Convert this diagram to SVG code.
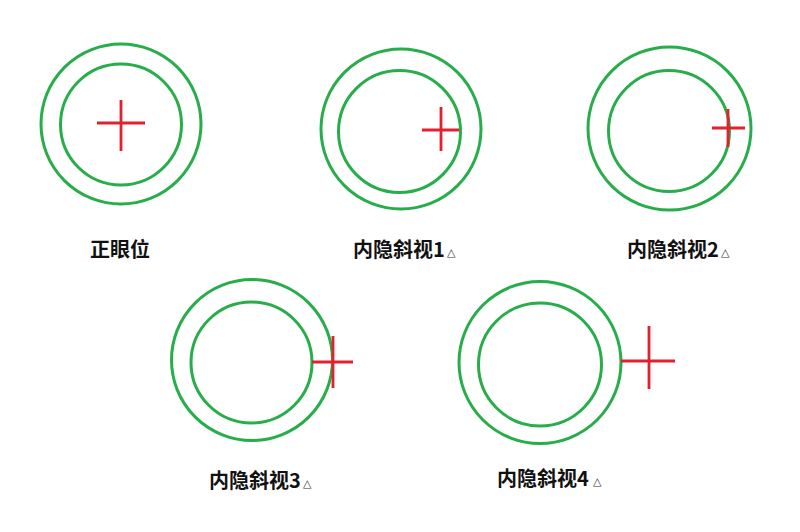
<svg xmlns="http://www.w3.org/2000/svg" width="800" height="532" viewBox="0 0 800 532">
<style>
.ring{fill:none;stroke:#27ad4a;stroke-width:3}
.cross{fill:none;stroke:#e4202e;stroke-width:2.8}
.lbl{font-family:"Noto Sans CJK SC","Liberation Sans",sans-serif;font-size:20px;font-weight:bold;fill:#111}
.tri{font-family:"DejaVu Sans","Noto Sans CJK SC",sans-serif;font-size:11px;fill:#333}
</style>
<rect width="800" height="532" fill="#ffffff"/>
<g id="node1">
<circle class="ring" cx="121" cy="124" r="80"/>
<circle class="ring" cx="121" cy="124.5" r="60.5"/>
<path class="cross" d="M97 123H145M121 100V151"/>
<text class="lbl" x="120" y="257" text-anchor="middle">正眼位</text>
</g>
<g id="node2">
<circle class="ring" cx="401" cy="129" r="80"/>
<circle class="ring" cx="399.5" cy="131.5" r="61"/>
<path class="cross" d="M422 130H459M441 107V151"/>
<text class="lbl" x="353" y="257">内隐斜视1</text>
<text class="tri" x="447" y="256">△</text>
</g>
<g id="node3">
<circle class="ring" cx="669.5" cy="128.5" r="81.5"/>
<circle class="ring" cx="669" cy="131" r="60.5"/>
<path class="cross" d="M712 128H745M728 109V147"/>
<text class="lbl" x="627" y="257">内隐斜视2</text>
<text class="tri" x="721" y="256">△</text>
</g>
<g id="node4">
<circle class="ring" cx="252" cy="360" r="80.5"/>
<circle class="ring" cx="251.5" cy="362.5" r="60.5"/>
<path class="cross" d="M312 362H353M333 336V388"/>
<text class="lbl" x="209" y="488">内隐斜视3</text>
<text class="tri" x="303" y="487">△</text>
</g>
<g id="node5">
<circle class="ring" cx="540" cy="362.5" r="81"/>
<circle class="ring" cx="540" cy="364.5" r="61.5"/>
<path class="cross" d="M621 361H675M649 326V389"/>
<text class="lbl" x="497" y="486">内隐斜视4</text>
<text class="tri" x="593" y="485">△</text>
</g>
<g id="connectors"/>
</svg>
